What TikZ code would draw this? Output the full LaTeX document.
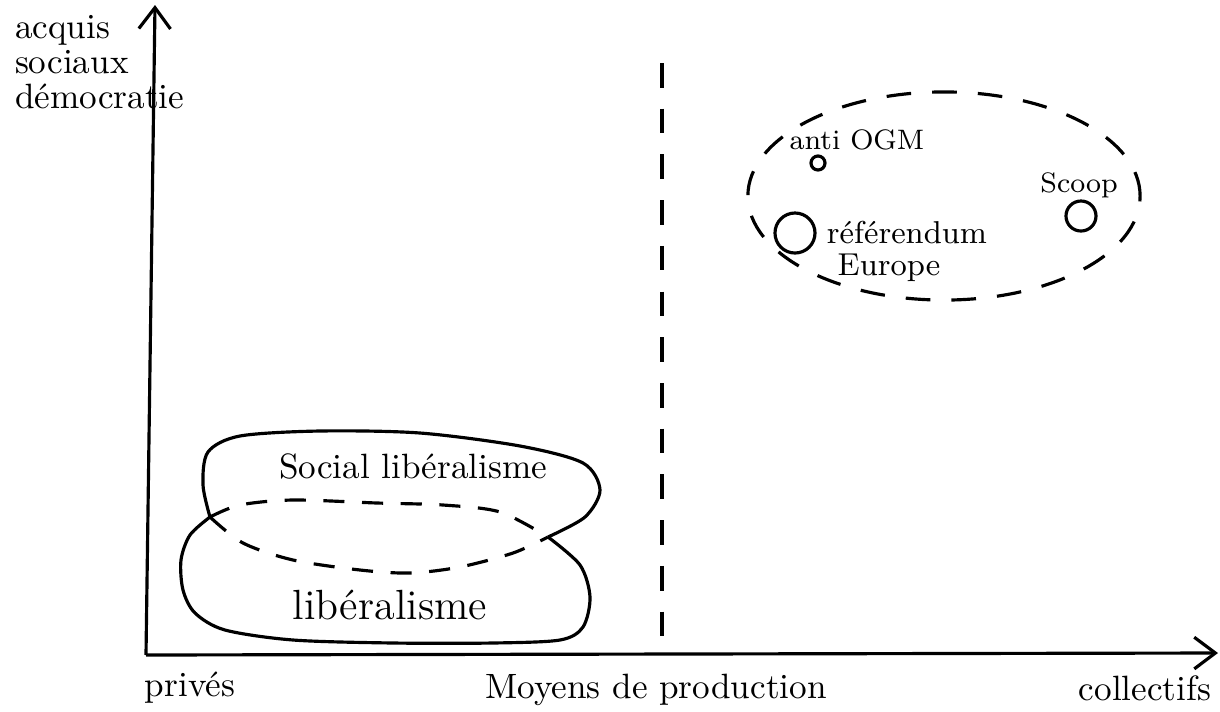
\documentclass[tikz,border=0pt]{standalone}
\usetikzlibrary{arrows.meta}
\begin{document}
\begin{tikzpicture}[x=0.01cm,y=-0.01cm,line width=0.9pt,
  axis/.style={-{Straight Barb[length=6pt,width=9pt]}},
  hidden/.style={dash pattern=on 6pt off 5pt},
  txt/.style={inner sep=1pt},
  dot/.style={circle,draw,inner sep=0pt}]
\useasboundingbox (0,0) rectangle (1220,711);
\coordinate (origin) at (146,655);
\coordinate (ytop) at (155,5);
\coordinate (xend) at (1218,653);
\draw[axis] (origin) -- (ytop);
\draw[axis] (origin) -- (xend);
\node[txt,anchor=north west,align=left,font=\fontsize{10}{10}\selectfont] (ylabel) at (10,10) {acquis\\sociaux\\démocratie};
\node[txt] (prives) at (190,688) {privés};
\node[txt] (moyens) at (656,690) {Moyens de production};
\node[txt,anchor=east] (collectifs) at (1216,688) {collectifs};
\coordinate (vtop) at (662,63);
\coordinate (vbot) at (662,653);
\draw[dash pattern=on 7pt off 6pt] (vtop) -- (vbot);
\coordinate (sl) at (210,517);
\coordinate (sr) at (548,537);
\draw plot[smooth] coordinates {(sl) (203,485) (208,452) (240,436) (320,431) (420,433) (520,446) (583,463) (600,490) (585,517) (sr)};
\draw[hidden] plot[smooth] coordinates {(sl) (243,543) (293,560) (360,570) (410,573) (460,567) (513,553) (sr)};
\draw[hidden] plot[smooth] coordinates {(sl) (240,505) (293,500) (377,503) (443,505) (500,512) (sr)};
\draw plot[smooth] coordinates {(sl) (190,535) (181,560) (183,590) (195,613) (225,630) (293,640) (393,643) (493,643) (560,640) (583,627) (590,597) (580,565) (sr)};
\node[txt] (social) at (413,466) {Social libéralisme};
\node[txt,font=\large] (liberalisme) at (390,605) {libéralisme};
\draw[dash pattern=on 7pt off 6pt] (944,196) ellipse [x radius=1.96cm, y radius=1.04cm];
\node[txt,font=\footnotesize] (ogm) at (857,140) {anti OGM};
\node[dot,minimum size=0.14cm] (ogmdot) at (818,163) {};
\node[dot,minimum size=0.4cm] (refdot) at (795,233) {};
\node[txt,font=\small] (referendum) at (907,233) {référendum};
\node[txt,font=\small] (europe) at (889,268) {Europe};
\node[txt,font=\footnotesize] (scoop) at (1079,185) {Scoop};
\node[dot,minimum size=0.3cm] (scoopdot) at (1081,216) {};
\end{tikzpicture}
\end{document}
